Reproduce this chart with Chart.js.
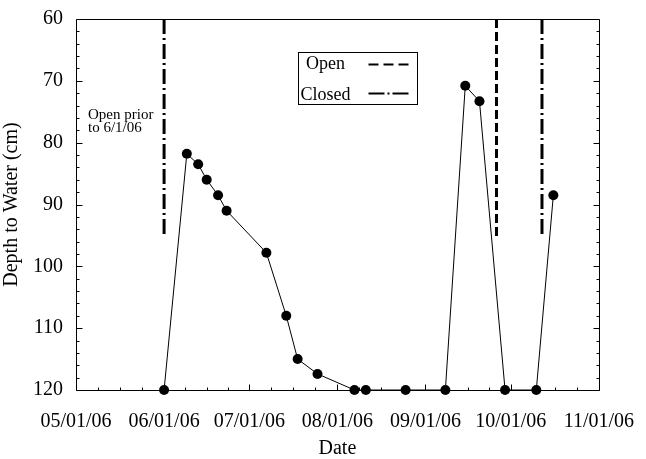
<!DOCTYPE html>
<html><head><meta charset="utf-8">
<script src="https://cdn.jsdelivr.net/npm/chart.js@4"></script>
<style>html,body{margin:0;padding:0;background:#fff;}#wrap{width:646px;height:459px;}</style>
</head><body><div id="wrap"><canvas id="c" width="646" height="459"></canvas></div>
<script>
// ---- data ----
const sampleDates = ['06/01/06','06/09/06','06/13/06','06/16/06','06/20/06','06/23/06','07/07/06','07/14/06','07/18/06','07/25/06','08/07/06','08/11/06','08/25/06','09/08/06','09/15/06','09/20/06','09/29/06','10/10/06','10/16/06'];
const depthCm = [120, 81.8, 83.5, 86.0, 88.5, 91.0, 97.8, 108.0, 115.0, 117.4, 120, 120, 120, 120, 70.8, 73.3, 120, 120, 88.5];
const closedDates = ['06/01/06','10/12/06'];
const openDates = ['09/26/06'];
const markerRange = [60, 95.3];
const xTickLabels = ['05/01/06','06/01/06','07/01/06','08/01/06','09/01/06','10/01/06','11/01/06'];
const yTickValues = [60,70,80,90,100,110,120];
const legendLabels = ['Open','Closed'];
const noteLines = ['Open prior','to 6/1/06'];
const xTitle = 'Date';
const yTitle = 'Depth to Water (cm)';

const FONT = 'Liberation Serif';
const OPEN_DASH = [9,4];
const CLOSED_DASH = [15,4,2,4];

function parseDate(s){const [m,d,y]=s.split('/').map(Number);return Date.UTC(2000+y,m-1,d);}

const datasets = [{
  data: sampleDates.map((d,i)=>({x:parseDate(d), y:depthCm[i]})),
  borderColor:'#000', borderWidth:1, pointRadius:5, pointBackgroundColor:'#000',
  pointBorderWidth:0, pointHoverRadius:5, tension:0, clip:false, order:0
}];
closedDates.forEach(d=>datasets.push({
  data: markerRange.map(v=>({x:parseDate(d), y:v})),
  borderColor:'#000', borderWidth:3, borderDash:CLOSED_DASH, pointRadius:0, borderCapStyle:'butt', order:1
}));
openDates.forEach(d=>datasets.push({
  data: markerRange.map(v=>({x:parseDate(d), y:v})),
  borderColor:'#000', borderWidth:3, borderDash:OPEN_DASH, pointRadius:0, borderCapStyle:'butt', order:1
}));

const decor = {
  id:'decor',
  afterDraw(chart){
    const ctx = chart.ctx, a = chart.chartArea, xs = chart.scales.x, ys = chart.scales.y;
    ctx.save();
    ctx.strokeStyle = '#000'; ctx.lineWidth = 1; ctx.setLineDash([]);
    const L = Math.round(a.left)+0.5, R = Math.round(a.right)+0.5, T = Math.round(a.top)+0.5, B = Math.round(a.bottom)+0.5;
    ctx.beginPath(); ctx.rect(L, T, R-L, B-T); ctx.stroke();
    // x ticks (inside, bottom)
    ctx.beginPath();
    const xv = xTickLabels.map(parseDate);
    for (let i=0;i<xv.length;i++){
      const px = Math.round(xs.getPixelForValue(xv[i]))+0.5;
      ctx.moveTo(px, B); ctx.lineTo(px, B-6);
      if (i<xv.length-1){
        for (let k=1;k<4;k++){
          const mx = Math.round(xs.getPixelForValue(xv[i]+(xv[i+1]-xv[i])*k/4))+0.5;
          ctx.moveTo(mx, B); ctx.lineTo(mx, B-3);
        }
      }
    }
    // y ticks left and right
    for (let v=ys.min; v<=ys.max; v+=2){
      const py = Math.round(ys.getPixelForValue(v))+0.5;
      const len = (v%10===0)?6:3;
      ctx.moveTo(L, py); ctx.lineTo(L+len, py);
      ctx.moveTo(R, py); ctx.lineTo(R-len, py);
    }
    ctx.stroke();
    // legend box
    const bx = a.left+222.5, by = a.top+33.5, bw = 119, bh = 52;
    ctx.strokeRect(bx, by, bw, bh);
    ctx.fillStyle = '#000';
    ctx.font = '18px "'+FONT+'"';
    ctx.textAlign = 'center'; ctx.textBaseline = 'alphabetic';
    const tcx = bx+27;
    ctx.fillText(legendLabels[0], tcx, by+16);
    ctx.fillText(legendLabels[1], tcx, by+47);
    ctx.lineWidth = 2;
    ctx.beginPath(); ctx.setLineDash([10,5]);
    ctx.moveTo(bx+70, by+12); ctx.lineTo(bx+110, by+12); ctx.stroke();
    ctx.beginPath(); ctx.setLineDash([16,3,2,3]);
    ctx.moveTo(bx+70, by+41); ctx.lineTo(bx+110, by+41); ctx.stroke();
    ctx.setLineDash([]);
    // note text
    ctx.font = '15px "'+FONT+'"';
    ctx.textAlign = 'left';
    ctx.fillText(noteLines[0], a.left+12, a.top+100);
    ctx.fillText(noteLines[1], a.left+12, a.top+112.5);
    ctx.restore();
  }
};

new Chart(document.getElementById('c'), {
  type:'line',
  data:{datasets},
  options:{
    responsive:false, animation:false, devicePixelRatio:1,
    events:[],
    layout:{padding:{top:19,right:42,bottom:0,left:0}},
    plugins:{legend:{display:false}, tooltip:{enabled:false}},
    scales:{
      x:{
        type:'linear',
        min:parseDate(xTickLabels[0]), max:parseDate(xTickLabels[xTickLabels.length-1]),
        afterBuildTicks:s=>{s.ticks = xTickLabels.map(l=>({value:parseDate(l)}));},
        ticks:{autoSkip:false, maxRotation:0, minRotation:0, padding:12, color:'#000',
          font:{family:FONT,size:20}, callback:(v,i)=>xTickLabels[i]},
        grid:{display:false}, border:{display:false},
        title:{display:true, text:xTitle, color:'#000', font:{family:FONT,size:20,lineHeight:1}, padding:0},
        afterFit:s=>{s.height = 69;}
      },
      y:{
        type:'linear', reverse:true, min:60, max:120,
        afterBuildTicks:s=>{s.ticks = yTickValues.map(v=>({value:v}));},
        ticks:{padding:5, color:'#000', font:{family:FONT,size:20}},
        grid:{display:false}, border:{display:false},
        title:{display:true, text:yTitle, color:'#000', font:{family:FONT,size:20}, padding:0},
        afterFit:s=>{s.width = 76;}
      }
    }
  },
  plugins:[decor]
});
</script>
</body></html>
